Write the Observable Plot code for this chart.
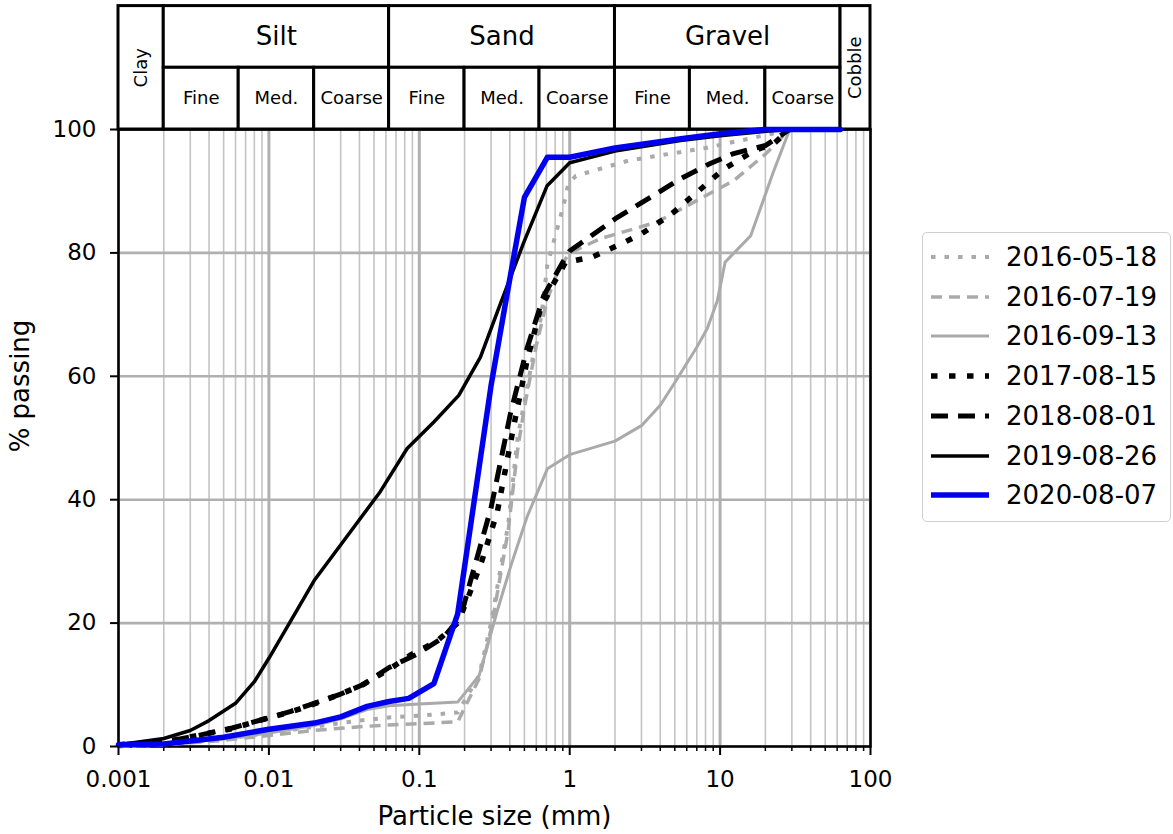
<!DOCTYPE html>
<html><head><meta charset="utf-8">
<script src="https://cdn.jsdelivr.net/npm/d3@7"></script>
<script src="https://cdn.jsdelivr.net/npm/@observablehq/plot@0.6"></script>
<style>
body{margin:0;background:#fff;font-family:"DejaVu Sans",sans-serif;}
#wrap{position:relative;width:1173px;height:834px;}
#legend{position:absolute;left:922px;top:232px;width:249px;height:290px;border:1.5px solid #cfcfcf;border-radius:5px;box-sizing:border-box;background:#fff;}
.row{position:absolute;left:0;height:40px;display:flex;align-items:center;}
.row span{font-size:26px;color:#000;margin-left:16px;white-space:nowrap;}
</style></head><body><div id="wrap"></div>
<script>
// ---- data ----
const seriesNames = ["2016-05-18","2016-07-19","2016-09-13","2017-08-15","2018-08-01","2019-08-26","2020-08-07"];
const s20160518 = [[0.001,0],[0.002,0.3],[0.005,1.2],[0.01,2.2],[0.02,3.2],[0.04,4.2],[0.063,4.7],[0.1,5],[0.18,5.5],[0.25,11.5],[0.3,20],[0.39,36],[0.45,50],[0.6,66],[0.65,70],[0.71,78],[0.91,87.7],[0.98,91.2],[1.1,92.5],[2.5,95],[8,97],[22,99.3],[29,100]];
const s20160719 = [[0.001,0],[0.002,0.3],[0.005,1],[0.01,1.8],[0.02,2.6],[0.04,3.2],[0.063,3.5],[0.1,3.7],[0.18,4],[0.25,11],[0.3,19],[0.39,35],[0.45,48],[0.5,55],[0.6,65],[0.71,72.5],[0.85,77.5],[1,80],[1.6,82.3],[3.8,85],[7.4,88.8],[12.3,91.7],[20,96],[29,100]];
const s20160913 = [[0.001,0.3],[0.002,0.4],[0.005,1.2],[0.01,2.2],[0.02,3.4],[0.03,4.5],[0.045,6],[0.063,6.6],[0.1,6.9],[0.18,7.2],[0.25,11.5],[0.33,22],[0.41,29.6],[0.52,37.2],[0.71,45],[1,47.3],[2,49.5],[3,52],[4,55.3],[5,59],[7,64.7],[8.2,67.7],[9.6,72.3],[10.8,78.5],[16,82.8],[22.5,93],[29,100]];
const s20170815 = [[0.001,0.3],[0.002,0.7],[0.0034,1.8],[0.0057,2.9],[0.0095,4.5],[0.014,5.6],[0.02,6.9],[0.03,8.5],[0.042,10],[0.063,12.5],[0.087,14.8],[0.13,17],[0.18,20],[0.21,24],[0.26,30],[0.33,38],[0.425,52],[0.52,62.5],[0.64,71],[0.78,75],[0.94,78.5],[1.4,79.3],[2.3,81.7],[3,83.1],[4.7,86.2],[7,89.8],[10.6,93.6],[16.9,96.6],[22.7,97.7],[29,100]];
const s20180801 = [[0.001,0.3],[0.002,0.7],[0.0034,1.8],[0.0057,3],[0.0095,4.5],[0.014,5.7],[0.02,7],[0.03,8.5],[0.042,10],[0.063,12.8],[0.097,15],[0.145,17.7],[0.188,21],[0.22,27],[0.3,38.7],[0.404,54],[0.52,64.5],[0.67,73],[0.89,78.3],[1,80.3],[2,85.5],[5.45,92],[8.6,94.5],[12.3,96.1],[20,97.4],[29,100]];
const s20190826 = [[0.001,0.3],[0.002,1.3],[0.003,2.6],[0.004,4.2],[0.006,7],[0.008,10.5],[0.01,14.3],[0.02,26.9],[0.055,41.3],[0.083,48.3],[0.125,52.6],[0.183,56.9],[0.255,63.1],[0.338,71.1],[0.495,81.7],[0.708,90.9],[1,94.6],[2,96.5],[5.45,98.2],[10,99],[20,99.7],[29,100]];
const s20200807 = [[0.001,0.3],[0.002,0.4],[0.005,1.5],[0.01,2.8],[0.02,3.8],[0.03,4.8],[0.045,6.5],[0.063,7.3],[0.085,7.8],[0.125,10.2],[0.18,21.5],[0.3,58.5],[0.375,72],[0.5,89],[0.71,95.5],[1,95.5],[2,97],[5.5,98.5],[10,99.3],[20,100],[63,100]];
const seriesData = [s20160518,s20160719,s20160913,s20170815,s20180801,s20190826,s20200807];

// styles (kept separate)
const seriesColors = ["#aaaaaa","#aaaaaa","#aaaaaa","#000000","#000000","#000000","#0000ee"];
const seriesWidths = [4,3.5,3,5.5,5,3.5,5.5];
const seriesDash = ["4.5,9","11,7",null,"6.5,11.5","17,10",null,null];

// axes
const xTicks = [0.001,0.01,0.1,1,10,100];
const xTickLabels = ["0.001","0.01","0.1","1","10","100"];
const yTicks = [0,20,40,60,80,100];

// size classes header
const edgeNames = ["Clay","Cobble"];
const edgeBounds = [[0.001,0.002],[63,100]];
const majorNames = ["Silt","Sand","Gravel"];
const majorBounds = [[0.002,0.063],[0.063,2],[2,63]];
const subNames = ["Fine","Med.","Coarse","Fine","Med.","Coarse","Fine","Med.","Coarse"];
const subBounds = [[0.002,0.0063],[0.0063,0.02],[0.02,0.063],[0.063,0.2],[0.2,0.63],[0.63,2],[2,6.3],[6.3,20],[20,63]];
const headerRows = [100,110,120];

// ---- build ----
const minor = [];
for (let e=-3;e<=1;e++) for (let m=2;m<=9;m++) minor.push(m*Math.pow(10,e));
const gm = b => Math.sqrt(b[0]*b[1]);
const edges = edgeNames.map((n,i)=>({name:n,x1:edgeBounds[i][0],x2:edgeBounds[i][1]}));
const majors = majorNames.map((n,i)=>({name:n,x1:majorBounds[i][0],x2:majorBounds[i][1]}));
const subs = subNames.map((n,i)=>({name:n,x1:subBounds[i][0],x2:subBounds[i][1]}));

const lineMarks = seriesData.map((d,i)=>Plot.line(d,{x:p=>p[0],y:p=>p[1],stroke:seriesColors[i],strokeWidth:seriesWidths[i],strokeDasharray:seriesDash[i]||undefined,strokeLinecap:seriesDash[i]?"butt":"round",strokeLinejoin:"round"}));

const chart = Plot.plot({
  width:1173, height:834,
  marginLeft:118, marginRight:303, marginTop:129, marginBottom:88,
  style:{fontFamily:"DejaVu Sans",fontSize:"23px",background:"white",overflow:"visible"},
  x:{type:"log",domain:[0.001,100]},
  y:{domain:[0,100]},
  marks:[
    Plot.ruleX(minor,{stroke:"#c4c4c4",strokeWidth:1.6}),
    Plot.ruleX(xTicks,{stroke:"#b0b0b0",strokeWidth:3}),
    Plot.ruleY(yTicks,{stroke:"#b0b0b0",strokeWidth:2.6}),
    Plot.rect(edges,{x1:"x1",x2:"x2",y1:headerRows[0],y2:headerRows[2],fill:"white",stroke:"black",strokeWidth:3}),
    Plot.rect(majors,{x1:"x1",x2:"x2",y1:headerRows[1],y2:headerRows[2],fill:"white",stroke:"black",strokeWidth:3}),
    Plot.rect(subs,{x1:"x1",x2:"x2",y1:headerRows[0],y2:headerRows[1],fill:"white",stroke:"black",strokeWidth:3}),
    Plot.text(majors,{x:d=>gm([d.x1,d.x2]),y:(headerRows[1]+headerRows[2])/2,text:"name",fontSize:26,fill:"black"}),
    Plot.text(subs,{x:d=>gm([d.x1,d.x2]),y:(headerRows[0]+headerRows[1])/2,text:"name",fontSize:18,fill:"black"}),
    Plot.text(edges,{x:d=>gm([d.x1,d.x2]),y:(headerRows[0]+headerRows[2])/2,text:"name",fontSize:18,rotate:-90,fill:"black"}),
    Plot.frame({stroke:"black",strokeWidth:2.5}),
    ...lineMarks,
    Plot.axisX({ticks:minor,tickSize:5,tickFormat:()=>"",label:null,strokeWidth:1.5}),
    Plot.axisX({ticks:xTicks,tickSize:9,tickPadding:15,tickFormat:d=>xTickLabels[xTicks.indexOf(d)],label:null,fontSize:23,strokeWidth:2}),
    Plot.axisY({ticks:yTicks,tickSize:8,tickPadding:14,label:null,fontSize:23,strokeWidth:2}),
    Plot.text(["Particle size (mm)"],{frameAnchor:"bottom",dy:78,fontSize:26,fill:"black"}),
    Plot.text(["% passing"],{frameAnchor:"left",textAnchor:"middle",dx:-98,dy:-52,rotate:-90,fontSize:26,fill:"black"})
  ]
});
const wrap = document.getElementById("wrap");
wrap.appendChild(chart);

// legend
const legend = d3.select(wrap).append("div").attr("id","legend");
seriesNames.forEach((n,i)=>{
  const row = legend.append("div").attr("class","row").style("top",(4+i*39.7)+"px").style("left","7px");
  const svg = row.append("svg").attr("width",60).attr("height",14);
  svg.append("line").attr("x1",1).attr("x2",59).attr("y1",7).attr("y2",7)
    .attr("stroke",seriesColors[i]).attr("stroke-width",seriesWidths[i])
    .attr("stroke-dasharray",seriesDash[i]).attr("stroke-linecap","butt");
  row.append("span").text(n);
});
</script></body></html>
